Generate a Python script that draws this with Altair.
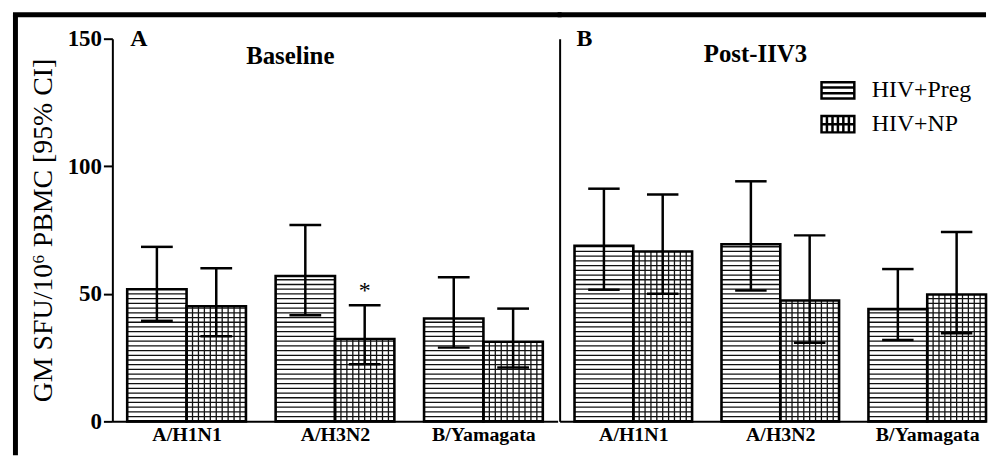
import json
import altair as alt
import pandas as pd

# ---------------- data ----------------
viruses = ["A/H1N1", "A/H3N2", "B/Yamagata"]
groups = ["HIV+Preg", "HIV+NP"]

# Baseline (panel A): geometric means and 95% CI
base_preg = [51.8, 57.0, 40.3]
base_preg_low = [39.4, 41.6, 28.9]
base_preg_high = [68.4, 77.0, 56.5]
base_np = [45.1, 32.3, 31.2]
base_np_low = [33.4, 22.4, 21.1]
base_np_high = [60.0, 45.5, 44.2]
base_sig = ["", "*", ""]  # significance marks on HIV+NP bars

# Post-IIV3 (panel B)
post_preg = [68.8, 69.4, 44.0]
post_preg_low = [51.6, 51.3, 31.9]
post_preg_high = [91.2, 94.1, 59.7]
post_np = [66.6, 47.4, 49.7]
post_np_low = [50.0, 30.8, 34.5]
post_np_high = [88.9, 72.9, 74.2]
post_sig = ["", "", ""]

y_ticks = [0, 50, 100, 150]
y_title = "GM SFU/10\u2076 PBMC [95% CI]"


def table(preg, pl, ph, np_, nl, nh, sig):
    rows = []
    for i, v in enumerate(viruses):
        rows.append(dict(virus=v, vidx=i, group=groups[0], gidx=0,
                         value=preg[i], low=pl[i], high=ph[i], sig=""))
        rows.append(dict(virus=v, vidx=i, group=groups[1], gidx=1,
                         value=np_[i], low=nl[i], high=nh[i], sig=sig[i]))
    return pd.DataFrame(rows)


df_a = table(base_preg, base_preg_low, base_preg_high,
             base_np, base_np_low, base_np_high, base_sig)
df_b = table(post_preg, post_preg_low, post_preg_high,
             post_np, post_np_low, post_np_high, post_sig)

# ---------------- layout / style constants ----------------
BW = 0.4          # bar width in category units
CAP = 0.107       # half width of error caps
HSTEP = 1.85      # spacing of horizontal hatch lines (y units)
VSTEP = 0.04      # spacing of vertical hatch lines (x units)
H = 385
FONT = "Liberation Serif"

label_expr = f"{json.dumps(viruses)}[round(datum.value - 0.4)]"

yscale = alt.Scale(domain=[0, 150], nice=False, zero=True)


def make_panel(df, width, xdomain, show_y, letter, title, letter_x, title_x,
               title_y, legend, frame_left):
    xscale = alt.Scale(domain=xdomain, nice=False, zero=False)
    xaxis = alt.Axis(values=[0.4, 1.4, 2.4], labelExpr=label_expr, title=None,
                     ticks=False, grid=False, domainColor="black", domainWidth=2,
                     labelFont=FONT, labelFontSize=20, labelFontWeight="bold",
                     labelColor="black", labelPadding=3, labelOverlap=False)
    if show_y:
        yaxis = alt.Axis(values=y_ticks, title=y_title, grid=False,
                         domainColor="black", domainWidth=2, tickColor="black",
                         tickWidth=2, tickSize=9, labelFont=FONT, labelFontSize=23,
                         labelFontWeight="bold", labelColor="black", labelPadding=2,
                         titleFont=FONT, titleFontSize=28, titleFontWeight="normal",
                         titleColor="black", titlePadding=10)
    else:
        yaxis = alt.Axis(values=y_ticks, title=None, grid=False, labels=False,
                         ticks=False, domainColor="black", domainWidth=2)

    base = alt.Chart(df).transform_calculate(
        x0="datum.vidx + datum.gidx * %f" % BW,
    ).transform_calculate(
        x1="datum.x0 + %f" % BW,
        xc="datum.x0 + %f" % (BW / 2),
    ).transform_calculate(
        cl="datum.xc - %f" % CAP,
        cr="datum.xc + %f" % CAP,
    )

    X = lambda f: alt.X(f, type="quantitative", scale=xscale, axis=xaxis)
    Y = lambda f: alt.Y(f, type="quantitative", scale=yscale, axis=yaxis)

    fillbars = base.mark_rect(fill="white", stroke=None).encode(
        x=X("x0"), x2="x1:Q", y=Y("value"), y2=alt.datum(0))

    hh = base.transform_calculate(
        hy="sequence(%f, datum.value - 0.4, %f)" % (HSTEP, HSTEP)
    ).transform_flatten(["hy"]).mark_rule(color="#111", strokeWidth=1.3).encode(
        x=X("x0"), x2="x1:Q", y=Y("hy"))

    vh = base.transform_filter(alt.datum.gidx == 1).transform_calculate(
        vx="sequence(datum.x0 + %f, datum.x1 - 0.02, %f)" % (VSTEP, VSTEP)
    ).transform_flatten(["vx"]).mark_rule(color="#111", strokeWidth=1.3).encode(
        x=X("vx"), y=Y("value"), y2=alt.datum(0))

    outline = base.mark_rect(fill="white", fillOpacity=0, stroke="black",
                             strokeWidth=2.6).encode(
        x=X("x0"), x2="x1:Q", y=Y("value"), y2=alt.datum(0))

    err = base.mark_rule(color="black", strokeWidth=2.5).encode(
        x=X("xc"), y=Y("low"), y2="high:Q")
    cap_hi = base.mark_rule(color="black", strokeWidth=2.5).encode(
        x=X("cl"), x2="cr:Q", y=Y("high"))
    cap_lo = base.mark_rule(color="black", strokeWidth=2.5).encode(
        x=X("cl"), x2="cr:Q", y=Y("low"))

    star = base.transform_filter(alt.datum.sig != "").mark_text(
        font=FONT, fontSize=24, color="black", dy=-14, baseline="middle").encode(
        x=X("xc"), y=Y("high"), text="sig:N")

    one = pd.DataFrame({"t": [letter], "u": [title]})
    letter_t = alt.Chart(one).mark_text(
        font=FONT, fontSize=24, fontWeight="bold", color="black",
        align="left", baseline="alphabetic").encode(
        x=alt.value(letter_x), y=alt.value(7), text="t:N")
    title_t = alt.Chart(one).mark_text(
        font=FONT, fontSize=25, fontWeight="bold", color="black",
        align="center", baseline="alphabetic").encode(
        x=alt.value(title_x), y=alt.value(title_y), text="u:N")

    layers = [fillbars, hh, vh, outline, err, cap_hi, cap_lo, star, letter_t, title_t]

    # figure frame (decoration)
    if frame_left:
        layers.append(alt.Chart(one).mark_rule(color="black", strokeWidth=5).encode(
            x=alt.value(-97.5), y=alt.value(-24), y2=alt.value(419)))
        layers.append(alt.Chart(one).mark_rule(color="black", strokeWidth=5).encode(
            x=alt.value(-100), x2=alt.value(width + 4), y=alt.value(-24)))
    else:
        layers.append(alt.Chart(one).mark_rule(color="black", strokeWidth=5).encode(
            x=alt.value(-2), x2=alt.value(width), y=alt.value(-24)))

    if legend:
        path_preg = "M-1,-0.5H1V0.5H-1Z M-1,-0.17H1 M-1,0.17H1"
        path_np = ("M-1,-0.5H1V0.5H-1Z M-1,0H1 M-0.67,-0.5V0.5 M-0.33,-0.5V0.5 "
                   "M0,-0.5V0.5 M0.33,-0.5V0.5 M0.67,-0.5V0.5")
        pts = base.mark_point(opacity=0, filled=False, color="black").encode(
            x=X("xc"), y=Y("value"),
            shape=alt.Shape("group:N", scale=alt.Scale(domain=groups,
                                                       range=[path_preg, path_np]),
                            legend=alt.Legend(title=None, orient="none",
                                              legendX=712, legendY=34,
                                              symbolSize=1089, symbolStrokeWidth=2.5,
                                              symbolStrokeColor="black",
                                              symbolFillColor="white",
                                              symbolOpacity=1,
                                              labelFont=FONT, labelFontSize=24,
                                              labelColor="black", labelOffset=16,
                                              rowPadding=2)))
        layers.append(pts)

    return alt.layer(*layers).properties(width=width, height=H)


panel_a = make_panel(df_a, 448, [-0.1, 2.9], True, "A", "Baseline",
                     18, 179, 25, False, True)
panel_b = make_panel(df_b, 429, [-0.1014, 2.8], False, "B", "Post-IIV3",
                     17, 197, 23, True, False)

chart = alt.HConcatChart(hconcat=[panel_a, panel_b], spacing=2, bounds="flush").properties(
    padding={"left": 2, "top": 2.5, "right": 0, "bottom": 0},
    background="white",
).configure_view(stroke=None)

chart.save("out.html", embed_options={"renderer": "svg", "actions": False})
